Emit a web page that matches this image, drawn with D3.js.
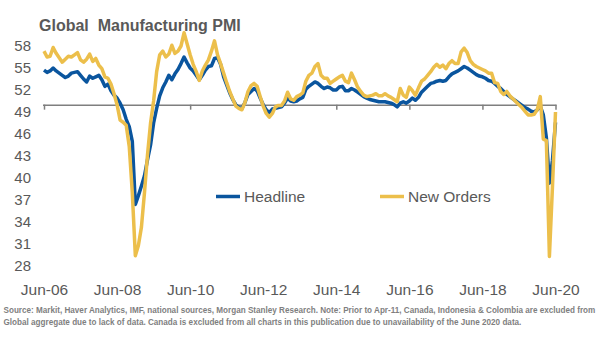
<!DOCTYPE html>
<html>
<head>
<meta charset="utf-8">
<script src="https://cdn.jsdelivr.net/npm/d3@7"></script>
<style>
  html, body { margin: 0; padding: 0; background: #fff; }
  svg { display: block; font-family: "Liberation Sans", Arial, sans-serif; }
</style>
</head>
<body>
<svg id="chart" width="605" height="341"></svg>
<script>
// Global Manufacturing PMI, monthly, Jun-06 .. Jun-20
const startMonth = "2006-06";

const headline = [
  54.7,54.4,54.6,55.0,54.6,54.3,54.0,53.7,53.9,54.3,54.4,54.5,
  54.0,53.5,53.1,53.9,53.6,53.8,54.0,53.4,52.5,52.8,51.9,51.3,
  50.9,50.2,49.3,48.0,47.0,45.0,36.4,37.6,38.9,40.3,42.5,44.5,
  47.5,49.5,51.2,52.3,53.1,54.0,53.4,54.2,54.8,55.6,56.5,55.7,
  55.0,54.6,54.0,53.4,54.0,54.7,55.2,55.3,56.3,56.4,55.5,53.8,
  52.7,51.6,50.7,50.0,49.6,49.5,50.3,51.4,51.8,52.2,51.9,50.9,
  50.0,49.3,48.9,49.4,49.5,49.6,49.7,50.2,50.9,50.5,50.4,50.5,
  50.8,51.0,52.1,52.5,52.8,53.1,52.9,52.5,52.2,52.4,52.3,52.0,
  52.0,52.4,52.5,51.9,51.9,52.2,52.0,51.7,51.4,51.1,50.9,50.7,
  50.6,50.5,50.4,50.4,50.4,50.3,50.2,50.0,49.7,50.2,50.4,50.2,
  50.5,50.9,50.6,51.0,51.7,52.1,52.5,52.9,53.0,53.2,53.3,53.2,
  53.3,53.8,54.2,54.4,54.6,54.9,55.2,55.0,54.7,54.4,54.1,53.9,
  53.8,53.6,53.3,53.2,52.9,52.5,52.2,51.8,51.4,51.1,50.8,50.5,
  50.2,49.9,49.6,49.4,49.1,49.0,49.3,49.8,48.6,45.5,39.3,42.4,
  47.6
];

const newOrders = [
  57.3,56.5,56.6,57.8,57.0,56.4,55.8,56.2,56.6,56.5,56.8,57.1,
  56.1,55.8,56.2,56.9,55.9,56.3,55.4,54.9,53.8,53.6,52.8,51.5,
  50.0,47.9,47.6,47.2,44.3,38.0,29.4,30.8,33.3,38.0,43.2,47.5,
  50.5,54.5,56.8,57.3,56.5,56.9,58.1,57.0,57.3,58.0,59.8,58.3,
  56.8,55.5,54.5,53.3,54.6,55.4,56.1,57.3,58.7,56.8,55.6,54.3,
  53.0,51.8,50.8,49.8,49.5,49.3,50.3,51.8,52.6,52.9,52.5,51.1,
  49.8,48.8,48.3,48.8,49.7,49.9,49.9,50.5,51.7,50.8,50.6,51.1,
  51.3,51.6,53.2,54.0,54.3,55.2,55.6,54.0,53.6,53.6,52.9,53.2,
  53.5,53.8,54.0,53.2,53.0,54.3,53.4,52.4,51.8,51.3,51.1,51.2,
  51.3,51.5,51.2,51.2,51.5,51.2,51.0,50.7,50.4,52.2,51.3,51.0,
  52.4,51.9,51.3,52.3,53.2,53.5,54.0,54.5,55.1,55.5,55.1,55.4,
  54.9,55.6,56.0,55.6,55.6,57.2,57.7,57.1,56.0,55.5,55.2,55.0,
  54.8,54.6,54.3,54.3,53.0,52.9,51.8,51.4,51.8,51.2,50.8,50.4,
  50.0,49.6,49.1,48.6,48.6,48.7,49.3,51.1,45.3,45.1,29.3,38.8,
  49.0
];

const seriesNames = ["Headline", "New Orders"];
const seriesColors = ["#0a559e", "#ecbf4b"];
const xTickLabels = ["Jun-06","Jun-08","Jun-10","Jun-12","Jun-14","Jun-16","Jun-18","Jun-20"];
const yTickValues = [28,31,34,37,40,43,46,49,52,55,58];

const title = "Global  Manufacturing PMI";
const footnote = [
  "Source: Markit, Haver Analytics, IMF, national sources, Morgan Stanley Research. Note: Prior to Apr-11, Canada, Indonesia & Colombia are excluded from",
  "Global aggregate due to lack of data. Canada is excluded from all charts in this publication due to unavailability of the June 2020 data."
];

// ---- layout ----
const svg = d3.select("#chart");
const textGrey = "#595959";

const n = headline.length;
const x = d3.scaleLinear().domain([0, n - 1]).range([44, 555.5]);
const y = d3.scaleLinear().domain([28, 58]).range([266, 46]);
const tickIdx = xTickLabels.map((_, i) => i * 24);

// title
svg.append("text")
  .attr("x", 39).attr("y", 30.5)
  .style("white-space", "pre")
  .attr("font-size", 16).attr("font-weight", "bold")
  .attr("fill", textGrey)
  .text(title);

// y labels (no axis line)
const yAxis = svg.append("g")
  .attr("transform", "translate(31,0)")
  .call(d3.axisLeft(y).tickValues(yTickValues).tickSize(0).tickPadding(0));
yAxis.select(".domain").remove();
yAxis.selectAll("text").attr("font-size", 15).attr("fill", textGrey)
  .attr("font-family", "Liberation Sans, Arial, sans-serif");

// horizontal axis line crossing at 50 with tick marks
const xAxisLine = svg.append("g")
  .attr("transform", `translate(0,${y(50)})`)
  .call(d3.axisBottom(x).tickValues(tickIdx).tickSize(5).tickFormat("").tickSizeOuter(0));
xAxisLine.select(".domain").attr("stroke", "#7f7f7f").attr("stroke-width", 1.5)
  .attr("d", `M${x(0) - 1},0.5H${x(n - 1) + 1}`);
xAxisLine.selectAll(".tick line").attr("stroke", "#7f7f7f").attr("stroke-width", 1.5);

// date labels along the bottom
const xLabels = svg.append("g")
  .attr("transform", "translate(0,284)")
  .call(d3.axisBottom(x).tickValues(tickIdx).tickSize(0).tickPadding(0)
    .tickFormat((d, i) => xTickLabels[i]));
xLabels.select(".domain").remove();
xLabels.selectAll("text").attr("font-size", 15.5).attr("fill", textGrey)
  .attr("font-family", "Liberation Sans, Arial, sans-serif");

// series lines
const line = d3.line().x((d, i) => x(i)).y(d => y(d)).curve(d3.curveLinear);
[headline, newOrders].forEach((vals, k) => {
  svg.append("path")
    .datum(vals)
    .attr("fill", "none")
    .attr("stroke", seriesColors[k])
    .attr("stroke-width", 3.5)
    .attr("stroke-linejoin", "round")
    .attr("d", line);
});

// legend
const legendPos = [{x: 216, y: 196.5}, {x: 380, y: 196.5}];
seriesNames.forEach((name, k) => {
  const g = svg.append("g").attr("transform", `translate(${legendPos[k].x},${legendPos[k].y})`);
  g.append("line").attr("x1", 0).attr("x2", 24).attr("y1", 0).attr("y2", 0)
    .attr("stroke", seriesColors[k]).attr("stroke-width", 3.5);
  g.append("text").attr("x", 28).attr("dy", "0.35em")
    .attr("font-size", 15.5).attr("fill", textGrey).text(name);
});

// footnote, fitted to the page width
footnote.forEach((t, i) => {
  const el = svg.append("text")
    .attr("x", 3.5).attr("y", 313 + i * 11.5)
    .attr("font-size", 9).attr("font-weight", "bold")
    .attr("fill", "#7f7f7f")
    .text(t);
  if (i === 0) {
    const w = el.node().getComputedTextLength();
    const fs = 9 * 593 / w;
    svg.selectAll("text.fn").attr("font-size", fs);
    el.attr("font-size", fs).classed("fn", true);
  } else {
    el.classed("fn", true);
  }
});
const fs0 = +svg.select("text.fn").attr("font-size");
svg.selectAll("text.fn").attr("font-size", fs0);
</script>
</body>
</html>
